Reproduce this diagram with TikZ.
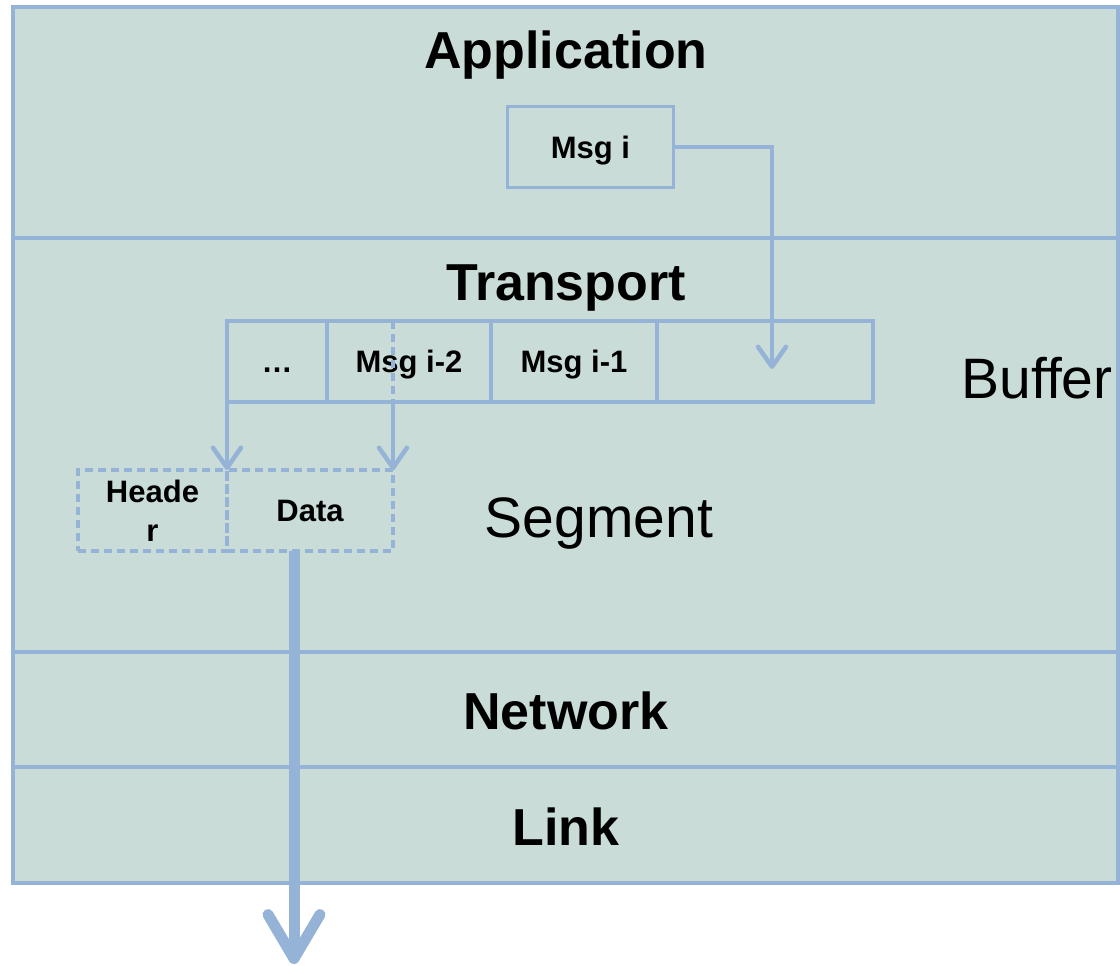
\documentclass[tikz,border=0pt]{standalone}
\usepackage{fontspec}
\setmainfont{Liberation Sans}
\usetikzlibrary{arrows.meta}
\definecolor{layerfill}{RGB}{201,220,216}
\definecolor{edge}{RGB}{149,179,215}
\tikzset{
  layer/.style={draw=edge, fill=layerfill, line width=3.5pt},
  title/.style={font=\fontsize{52}{60}\selectfont\bfseries, anchor=base},
  tag/.style={font=\fontsize{57}{64}\selectfont, anchor=base},
  cellbase/.style={draw=edge, line width=3.5pt, minimum height=81pt, inner sep=0pt,
    outer sep=0pt, font=\fontsize{31}{39}\selectfont\bfseries, align=center},
  cell/.style={cellbase, text height=22pt, text depth=0pt},
  dashline/.style={dash pattern=on 8pt off 5pt},
  flow/.style={draw=edge, line width=4.5pt, -{Straight Barb[length=20pt,width=28pt,round]}},
  bigflow/.style={draw=edge, line width=11pt, -{Straight Barb[length=44pt,width=52pt,round]}}
}
\begin{document}
\begin{tikzpicture}[x=1pt,y=-1pt]
\useasboundingbox (0,0) rectangle (1120,966);

% protocol layers
\draw[layer] (13,7) rectangle (1118,238);
\draw[layer] (13,238) rectangle (1118,652);
\draw[layer] (13,652) rectangle (1118,767);
\draw[layer] (13,767) rectangle (1118,883);
\draw[edge, line width=4pt] (13,7) rectangle (1118,883);

\node[title] (app) at (566,69) {Application};
\node[title] (tr) at (566,300) {Transport};
\node[title] (net) at (566,729) {Network};
\node[title] (lnk) at (566,845) {Link};
\node[tag] (buflabel) at (1037,398) {Buffer};
\node[tag] (seglabel) at (599,537) {Segment};

% application message
\node[cell, minimum width=166pt] (msgi) at (590.5,147) {Msg i};

% send buffer
\node[cell, minimum width=100pt] (b1) at (277,361.5) {…};
\node[cell, minimum width=164pt] (b2) at (409,361.5) {Msg i-2};
\node[cell, minimum width=166pt] (b3) at (574,361.5) {Msg i-1};
\node[cell, minimum width=216pt] (b4) at (765,361.5) {};

% segment
\node[cellbase, dashline, text depth=0pt, minimum width=149pt] (hdr) at (152.5,510.5) {Heade\\r};
\node[cell, dashline, minimum width=166pt] (data) at (310,510.5) {Data};

\coordinate (drop) at (772,369);
\coordinate (cut) at (data.north east |- b1.north);
\coordinate (cutlow) at (data.north east |- b1.south);
\coordinate (out) at (294,964);

% connectors
\draw[flow] (msgi.east) -| (drop);
\draw[flow] (b1.north west) -- (hdr.north east);
\draw[edge, line width=3.5pt, dashline] (cut) -- (cutlow);
\draw[flow] (cutlow) -- (data.north east);
\draw[bigflow] (data.south -| out) -- (out);
\end{tikzpicture}
\end{document}
